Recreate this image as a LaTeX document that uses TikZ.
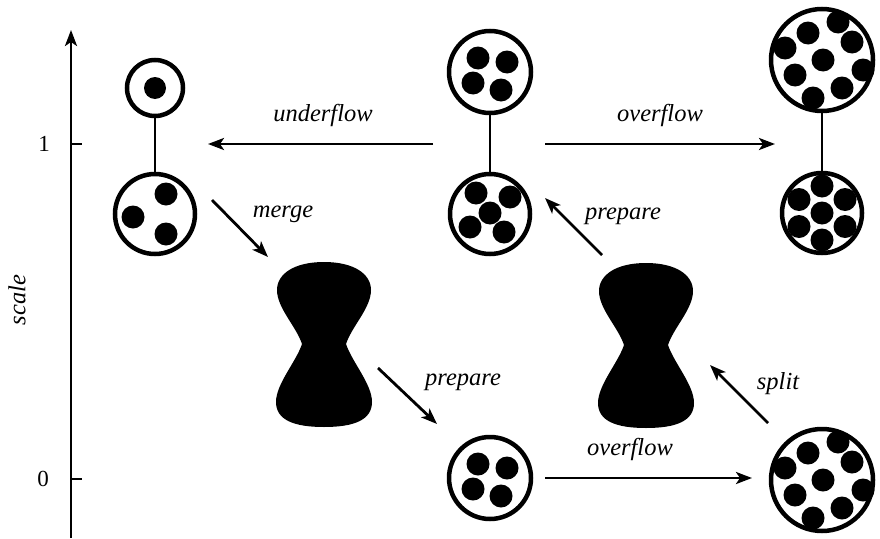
\documentclass[tikz,border=0pt]{standalone}
\usepackage{fontspec}
\setmainfont{Liberation Serif}
\usetikzlibrary{arrows.meta}
\tikzset{
  ring/.style={circle, draw, line width=4.5pt, inner sep=0pt, fill=white},
  link/.style={line width=2.8pt},
  flow/.style={line width=2.8pt, -{Stealth[length=16pt,width=12pt,inset=4pt]}},
  lbl/.style={font=\fontsize{24.5}{28}\selectfont\itshape},
  num/.style={font=\fontsize{23}{26}\selectfont},
  hourglass/.style={minimum width=96pt, minimum height=164pt, inner sep=0pt},
}
\newcommand{\hgpath}[1]{%
  \fill[shift={(#1)}] (0,-82) .. controls (30,-82) and (47,-70) .. (47,-54)
    .. controls (47,-36) and (28,-18) .. (22,0)
    .. controls (28,18) and (48,40) .. (48,58)
    .. controls (48,76) and (30,83) .. (0,83)
    .. controls (-30,83) and (-48,76) .. (-48,58)
    .. controls (-48,40) and (-28,18) .. (-22,0)
    .. controls (-28,-18) and (-47,-36) .. (-47,-54)
    .. controls (-47,-70) and (-30,-82) .. (0,-82) -- cycle;}
\newcommand{\dotsfour}[1]{%
  \foreach \p in {(-12,-14),(17,-10),(-17,11),(11,18)}
    \fill[shift={(#1)}] \p circle[radius=11.5pt];}
\newcommand{\dotsnine}[1]{%
  \foreach \p in {(16,-38),(-14,-27),(30,-18),(-37,-12),(1,0),(41,10),(-27,15),(20,28),(-9,38)}
    \fill[shift={(#1)}] \p circle[radius=11.5pt];}
\begin{document}
\begin{tikzpicture}[x=1pt,y=-1pt]
\useasboundingbox (0,0) rectangle (880,538);

% axis
\coordinate (axb) at (71,538);
\coordinate (axt) at (71,30);
\draw[line width=2.8pt, -{Stealth[length=16pt,width=12pt,inset=4pt]}] (axb) -- (axt);
\coordinate (t1) at (71,144);
\coordinate (t0) at (71,479);
\draw[line width=1.5pt] (t1) -- ++(11,0);
\draw[line width=1.5pt] (t0) -- ++(11,0);
\node[num] (l1) at (44,144) {1};
\node[num] (l0) at (43,479) {0};
\node[lbl, rotate=90] (sc) at (17,300) {scale};

% left pair
\node[ring, minimum size=56pt] (tl1) at (155,88) {};
\node[ring, minimum size=80pt] (tl2) at (155,214) {};
\draw[link] (tl1) -- (tl2);
\fill (tl1.center) circle[radius=11pt];
\foreach \p in {(11,-20),(-22,3),(11,20)} \fill[shift={(tl2.center)}] \p circle[radius=11.5pt];

% middle pair
\node[ring, minimum size=82pt] (tm1) at (490,72) {};
\node[ring, minimum size=80pt] (tm2) at (490,214) {};
\draw[link] (tm1) -- (tm2);
\dotsfour{tm1.center}
\foreach \p in {(-14,-21),(20,-17),(0,-1),(-20,13),(14,18)} \fill[shift={(tm2.center)}] \p circle[radius=11.5pt];

% right pair
\node[ring, minimum size=102pt] (tr1) at (822,60) {};
\node[ring, minimum size=80pt] (tr2) at (822,213) {};
\draw[link] (tr1) -- (tr2);
\dotsnine{tr1.center}
\foreach \p in {(0,0),(0,-27),(-23,-13.5),(23,-13.5),(-23,13.5),(23,13.5),(0,27)} \fill[shift={(tr2.center)}] \p circle[radius=11.5pt];

% bottom circles
\node[ring, minimum size=82pt] (bm) at (490,478) {};
\dotsfour{bm.center}
\node[ring, minimum size=102pt] (br) at (822,480) {};
\dotsnine{br.center}

% hourglasses
\node[hourglass] (hg1) at (324,344) {};
\hgpath{hg1.center}
\node[hourglass] (hg2) at (646,345) {};
\hgpath{hg2.center}

% arrow end points
\coordinate (uA) at (433,144); \coordinate (uB) at (208,144);
\coordinate (oA) at (545,144); \coordinate (oB) at (775,144);
\coordinate (mA) at (212,200); \coordinate (mB) at (268,257);
\coordinate (p1A) at (378,368); \coordinate (p1B) at (437,424);
\coordinate (p2A) at (602,255); \coordinate (p2B) at (545,198);
\coordinate (sA) at (768,423); \coordinate (sB) at (710,365);
\coordinate (bA) at (545,478); \coordinate (bB) at (752,478);

\draw[flow] (uA) -- (uB);
\draw[flow] (oA) -- (oB);
\draw[flow] (mA) -- (mB);
\draw[flow] (p1A) -- (p1B);
\draw[flow] (p2A) -- (p2B);
\draw[flow] (sA) -- (sB);
\draw[flow] (bA) -- (bB);

\node[lbl] (lu) at (323,115) {underflow};
\node[lbl] (lo) at (660,115) {overflow};
\node[lbl] (lm) at (283,214) {merge};
\node[lbl] (lp1) at (463,382) {prepare};
\node[lbl] (lp2) at (623,216) {prepare};
\node[lbl] (ls) at (778,384) {split};
\node[lbl] (lb) at (630,449) {overflow};
\end{tikzpicture}
\end{document}
